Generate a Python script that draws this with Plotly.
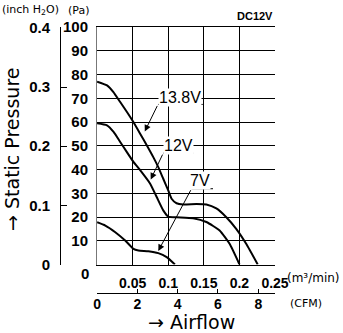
import plotly.graph_objects as go

# ---- data (m3/min, Pa) ----
flow_138 = [0, 0.014, 0.023, 0.0325, 0.042, 0.051, 0.0605, 0.07, 0.079, 0.086, 0.093, 0.100,
            0.1047, 0.1117, 0.121, 0.1397, 0.1536, 0.1676, 0.1816, 0.1955, 0.2095, 0.2257]
pa_138 = [77.0, 75.4, 72.6, 68.4, 64.2, 60.0, 55.1, 50.1, 45.2, 41.0, 36.1, 31.2,
          27.7, 25.8, 25.3, 25.5, 25.3, 23.6, 19.9, 15.0, 8.7, 0]

flow_12 = [0, 0.014, 0.0232, 0.0325, 0.0419, 0.0511, 0.0605, 0.0744, 0.0838, 0.093, 0.100,
           0.1117, 0.1349, 0.1536, 0.1722, 0.1862, 0.2001]
pa_12 = [59.5, 58.6, 55.8, 51.6, 47.3, 43.2, 39.7, 34.1, 28.4, 22.8, 20.2,
         19.9, 19.5, 17.9, 14.3, 8.7, 0]

flow_7 = [0, 0.0116, 0.0256, 0.0395, 0.0511, 0.0581, 0.0721, 0.086, 0.0978, 0.1094]
pa_7 = [17.8, 16.4, 13.6, 10.1, 6.6, 5.9, 5.6, 4.8, 3.1, 0]

series_names = ["13.8V", "12V", "7V"]

m3_ticks = [0.05, 0.1, 0.15, 0.2, 0.25]
m3_ticktext = ["0.05", "0.1", "0.15", "0.2", "0.25"]
pa_ticks = [10, 20, 30, 40, 50, 60, 70, 80, 90, 100]
inch_ticks = [0, 0.1, 0.2, 0.3, 0.4]
inch_ticktext = ["0", "0.1", "0.2", "0.3", "0.4"]
cfm_ticks = [0, 2, 4, 6, 8]

PA_PER_INCH = 249.089
M3MIN_PER_CFM = 0.0283168
X_MAX = 0.25
Y_MAX = 100

TICKF = "Liberation Sans Narrow, Liberation Sans, Arial, sans-serif"
WIDE = "DejaVu Sans, sans-serif"

fig = go.Figure()
for xs, ys, nm in [(flow_138, pa_138, series_names[0]), (flow_12, pa_12, series_names[1]),
                   (flow_7, pa_7, series_names[2])]:
    fig.add_trace(go.Scatter(x=xs, y=ys, mode="lines", name=nm,
                             line=dict(color="black", width=2, shape="spline", smoothing=0.5),
                             showlegend=False, hoverinfo="skip"))

# invisible traces to activate the secondary axes
fig.add_trace(go.Scatter(x=[0], y=[0], xaxis="x", yaxis="y2", mode="markers",
                         marker=dict(opacity=0), showlegend=False, hoverinfo="skip"))
fig.add_trace(go.Scatter(x=[0], y=[0], xaxis="x2", yaxis="y", mode="markers",
                         marker=dict(opacity=0), showlegend=False, hoverinfo="skip"))

ML, MR, MT, MB = 59.5, 67.7, 26.7, 40.3
W = 343 - ML - MR
H = 333 - MT - MB
x0_dom = (96.7 - ML) / W
y0_dom = (292.7 - 264.2) / H

tickfont = dict(family=TICKF, size=14, color="black", weight="bold")

fig.update_layout(
    width=343, height=333,
    margin=dict(l=ML, r=MR, t=MT, b=MB, pad=0),
    paper_bgcolor="white", plot_bgcolor="white",
    xaxis=dict(domain=[x0_dom, 1], range=[0, X_MAX], tickvals=m3_ticks, ticktext=m3_ticktext,
               showgrid=True, gridcolor="black", gridwidth=1, zeroline=False,
               showline=True, linecolor="black", linewidth=1, mirror=True,
               ticks="", ticklabelstandoff=6, tickfont=tickfont),
    yaxis=dict(domain=[y0_dom, 1], range=[0, Y_MAX], tickvals=pa_ticks,
               showgrid=True, gridcolor="black", gridwidth=1, zeroline=False,
               showline=True, linecolor="#777", linewidth=1, mirror=False,
               ticks="", ticklabelstandoff=5, tickfont=dict(tickfont, size=15)),
    yaxis2=dict(overlaying="y", anchor="free", position=0, side="left",
                range=[0, Y_MAX / PA_PER_INCH], tickvals=inch_ticks, ticktext=inch_ticktext,
                showgrid=False, zeroline=False, showline=True, linecolor="black", linewidth=1,
                ticks="inside", ticklen=6, tickcolor="black", ticklabelstandoff=7,
                tickfont=dict(tickfont, size=15)),
    xaxis2=dict(overlaying="x", anchor="free", position=0, side="bottom",
                range=[0, X_MAX / M3MIN_PER_CFM], tickvals=cfm_ticks,
                showgrid=False, zeroline=False, showline=True, linecolor="black", linewidth=1,
                ticks="inside", ticklen=4, tickcolor="black", ticklabelstandoff=-2,
                tickfont=tickfont),
)

ann = []
# Pa "0" label (sits a little low in the original)
ann.append(dict(x=0, y=0, xref="x", yref="y", text="0", showarrow=False, xanchor="right",
                yanchor="middle", xshift=-6, yshift=-9, font=dict(tickfont, size=15)))

# series labels: (text, text x, text y, underline x0, x1, y, arrow head x, y)
labels = [
    (series_names[0], 0.1163, 70.5, 0.0856, 0.1485, 67.4, 0.067, 56.0),
    (series_names[1], 0.114, 50.1, 0.093, 0.135, 46.9, 0.0754, 35.8),
    (series_names[2], 0.1443, 35.2, 0.1327, 0.1629, 31.9, 0.086, 5.7),
]
shapes = []
for t, tx, ty, ux0, ux1, uy, hx, hy in labels:
    ann.append(dict(x=tx, y=ty, xref="x", yref="y", text=t, showarrow=False,
                    bgcolor="white", borderpad=0,
                    font=dict(family="Liberation Sans, Arial, sans-serif", size=16, color="black")))
    shapes.append(dict(type="line", xref="x", yref="y", x0=ux0, x1=ux1, y0=uy, y1=uy,
                       line=dict(color="black", width=1)))
    ann.append(dict(x=hx, y=hy, xref="x", yref="y", ax=ux0, ay=uy, axref="x", ayref="y",
                    text="", showarrow=True, arrowhead=2, arrowsize=1.3, arrowwidth=1,
                    arrowcolor="black", standoff=0, startstandoff=0))

# titles & unit labels (pixel -> paper conversions)
def px(xp):
    return (xp - ML) / W

def py(yp):
    return (333 - MB - yp) / H

ann.append(dict(x=px(12), y=py(149), xref="paper", yref="paper", text="→ Static Pressure",
                showarrow=False, textangle=-90, xanchor="center", yanchor="middle",
                font=dict(family=WIDE, size=19, color="black")))
ann.append(dict(x=px(191), y=py(322), xref="paper", yref="paper", text="→ Airflow",
                showarrow=False, xanchor="center", yanchor="middle",
                font=dict(family=WIDE, size=19, color="black")))
ann.append(dict(x=px(30), y=py(10), xref="paper", yref="paper", text="(inch H<sub>2</sub>O)",
                showarrow=False, xanchor="center", yanchor="middle",
                font=dict(family=WIDE, size=11, color="black")))
ann.append(dict(x=px(78), y=py(10), xref="paper", yref="paper", text="(Pa)",
                showarrow=False, xanchor="center", yanchor="middle",
                font=dict(family=WIDE, size=11, color="black")))
ann.append(dict(x=1, y=py(16), xref="paper", yref="paper", text="DC12V",
                showarrow=False, xanchor="right", yanchor="middle",
                font=dict(family=TICKF, size=11, color="black", weight="bold")))
ann.append(dict(x=px(285), y=py(278), xref="paper", yref="paper", text="(m³/min)",
                showarrow=False, xanchor="left", yanchor="middle",
                font=dict(family=WIDE, size=12, color="black")))
ann.append(dict(x=px(288), y=py(303), xref="paper", yref="paper", text="(CFM)",
                showarrow=False, xanchor="left", yanchor="middle",
                font=dict(family=WIDE, size=11, color="black")))

fig.update_layout(annotations=ann, shapes=shapes)
fig.write_html("out.html")
